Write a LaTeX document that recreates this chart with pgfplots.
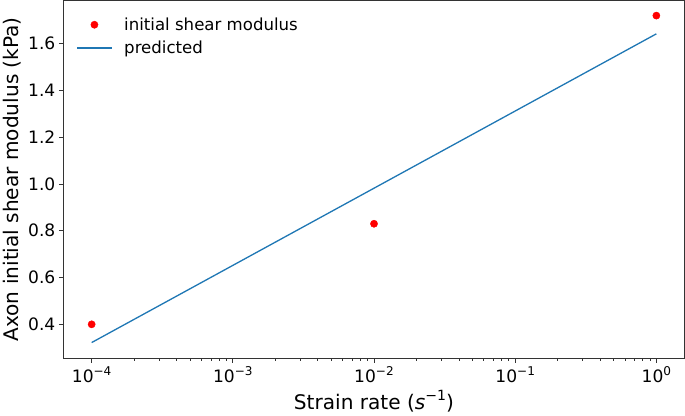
\documentclass[border=0pt]{standalone}
\usepackage{pgfplots}
\pgfplotsset{compat=1.18}
\usepackage{fontspec}
\setmainfont{DejaVu Sans}
\definecolor{c0}{HTML}{1F77B4}
\newcommand{\tp}[1]{10\raisebox{0.45em}{\fontsize{12}{12}\selectfont #1}}
\begin{document}
\begin{tikzpicture}
\begin{axis}[
  scale only axis,
  width=618pt, height=356pt,
  xmode=log,
  xmin=10^-4.2, xmax=10^0.2,
  ymin=0.255, ymax=1.785,
  xtick={1e-4,1e-3,1e-2,1e-1,1},
  xticklabels={\tp{−4},\tp{−3},\tp{−2},\tp{−1},\tp{0}},
  ytick={0.4,0.6,0.8,1.0,1.2,1.4,1.6},
  yticklabel style={/pgf/number format/.cd,fixed,fixed zerofill,precision=1},
  /pgf/number format/assume math mode=true,
  tick label style={font=\fontsize{17}{17}\selectfont, black},
  label style={font=\fontsize{20}{20}\selectfont},
  xlabel={Strain rate (\textit{s}\raisebox{0.45em}{\fontsize{14}{14}\selectfont −1})},
  ylabel={Axon initial shear modulus (kPa)},
  tick align=outside,
  tick pos=left,
  major tick length=4.5pt,
  minor tick length=2.5pt,
  axis line style={black!80, line width=0.8pt},
  every tick/.style={black!80, line width=0.8pt},
  legend image code/.code={\draw[mark repeat=2,mark phase=2] plot coordinates {(0pt,0pt)(17pt,0pt)(34pt,0pt)};},
  legend style={draw=none, fill=white, at={(0,1)}, anchor=north west, xshift=13pt, yshift=-15pt,
    inner xsep=0pt, inner ysep=0pt,
    font=\fontsize{16.5}{16.5}\selectfont, row sep=5pt, column sep=4pt,
    nodes={inner xsep=8pt, inner ysep=2pt}},
  legend cell align=left,
  clip=false,
]
\addplot[only marks, mark=*, mark size=3.6pt, color=red] coordinates {
  (1e-4,0.40) (1e-2,0.83) (1,1.72)
};
\addlegendentry{initial shear modulus}
\addplot[c0, line width=1.3pt] coordinates {
  (1e-4,0.322) (1e-3,0.652) (1e-2,0.982) (1e-1,1.312) (1,1.642)
};
\addlegendentry{predicted}
\end{axis}
\end{tikzpicture}
\end{document}
